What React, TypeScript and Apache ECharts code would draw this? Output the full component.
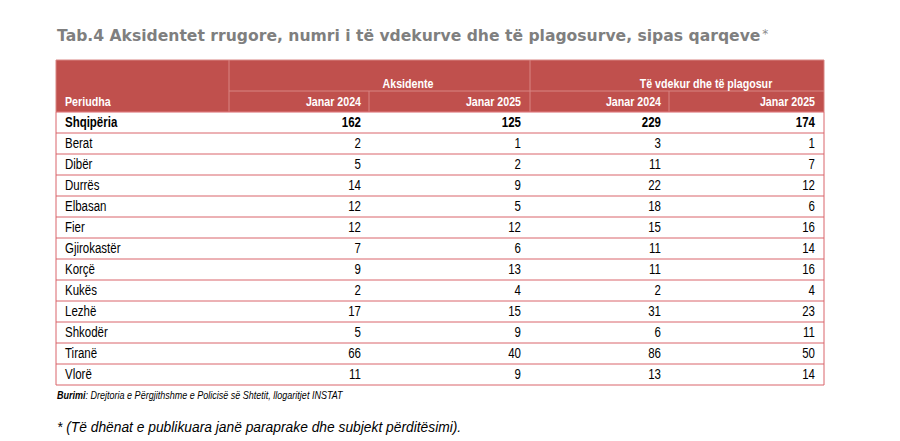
import React, { useEffect, useRef } from "react";
import * as echarts from "echarts";

const title = "Tab.4 Aksidentet rrugore, numri i të vdekurve dhe të plagosurve, sipas qarqeve";
const titleMark = "*";
const stubHeader = "Periudha";
const groupHeaders = ["Aksidente", "Të vdekur dhe të plagosur"];
const periodHeaders = ["Janar 2024", "Janar 2025", "Janar 2024", "Janar 2025"];
const regions = ["Shqipëria", "Berat", "Dibër", "Durrës", "Elbasan", "Fier", "Gjirokastër", "Korçë", "Kukës", "Lezhë", "Shkodër", "Tiranë", "Vlorë"];
const accidents2024 = [162, 2, 5, 14, 12, 12, 7, 9, 2, 17, 5, 66, 11];
const accidents2025 = [125, 1, 2, 9, 5, 12, 6, 13, 4, 15, 9, 40, 9];
const casualties2024 = [229, 3, 11, 22, 18, 15, 11, 11, 2, 31, 6, 86, 13];
const casualties2025 = [174, 1, 7, 12, 6, 16, 14, 16, 4, 23, 11, 50, 14];
const sourceLabel = "Burimi";
const sourceText = ": Drejtoria e Përgjithshme e Policisë së Shtetit, llogaritjet INSTAT";
const footnote = "* (Të dhënat e publikuara janë paraprake dhe subjekt përditësimi).";

const SANS = "'Liberation Sans', Arial, sans-serif";
const WIDE = "'DejaVu Sans', Verdana, sans-serif";
const NARROW_SCALE = 0.82;

export default function App() {
  const ref = useRef<HTMLDivElement>(null);
  useEffect(() => {
    if (!ref.current) return;
    const chart = echarts.init(ref.current, null, { renderer: "svg" });

    const L = 56, R = 824;
    const hTop = 60, hMid = 91, hBot = 112;
    const colSep = [229, 369, 530, 669];
    const numRight = [361, 521, 661, 815];
    const bodyBottom = 385;
    const rowH = (bodyBottom - hBot) / regions.length;
    const headFill = "#c0504d";
    const headLine = "#d88583";
    const bodyLine = "#d9646b";
    const columns = [accidents2024, accidents2025, casualties2024, casualties2025];

    const narrowText = (x: number, y: number, style: any) => ({
      type: "text", x, y, scaleX: NARROW_SCALE, scaleY: 1,
      style: { fontFamily: SANS, verticalAlign: "middle", ...style },
    });

    const els: any[] = [];
    els.push({
      type: "text", x: L + 1, y: 36,
      style: {
        text: "{t|" + title + "}{s|" + titleMark + "}",
        fill: "#7f7f7f", fontFamily: WIDE, verticalAlign: "middle",
        rich: {
          t: { fontSize: 15.6, fontWeight: "bold", fontFamily: WIDE, fill: "#7f7f7f" },
          s: { fontSize: 12, fontWeight: "normal", fontFamily: WIDE, fill: "#8c8c8c", verticalAlign: "top", padding: [0, 0, 0, 2] },
        },
      },
    });
    // header
    els.push({ type: "rect", shape: { x: L, y: hTop, width: R - L, height: hBot - hTop }, style: { fill: headFill, stroke: headLine, lineWidth: 1 } });
    els.push({ type: "line", shape: { x1: colSep[0], y1: hMid, x2: R, y2: hMid }, style: { stroke: headLine, lineWidth: 1 } });
    els.push({ type: "line", shape: { x1: colSep[0], y1: hTop, x2: colSep[0], y2: hBot }, style: { stroke: headLine, lineWidth: 1 } });
    els.push({ type: "line", shape: { x1: colSep[2], y1: hTop, x2: colSep[2], y2: hBot }, style: { stroke: headLine, lineWidth: 1 } });
    els.push({ type: "line", shape: { x1: colSep[1], y1: hMid, x2: colSep[1], y2: hBot }, style: { stroke: headLine, lineWidth: 1 } });
    els.push({ type: "line", shape: { x1: colSep[3], y1: hMid, x2: colSep[3], y2: hBot }, style: { stroke: headLine, lineWidth: 1 } });
    const headText = { fill: "#ffffff", fontSize: 13, fontWeight: "bold" };
    els.push(narrowText(65, 102, { ...headText, text: stubHeader, align: "left" }));
    els.push(narrowText(408, 84, { ...headText, text: groupHeaders[0], align: "center" }));
    els.push(narrowText(706, 84, { ...headText, text: groupHeaders[1], align: "center" }));
    periodHeaders.forEach((p, i) => {
      els.push(narrowText(numRight[i], 102, { ...headText, text: p, align: "right" }));
    });

    // body
    els.push({ type: "rect", shape: { x: L, y: hBot, width: R - L, height: bodyBottom - hBot }, style: { fill: "#ffffff", stroke: bodyLine, lineWidth: 1 } });
    regions.forEach((r, i) => {
      const top = hBot + i * rowH;
      const cy = top + rowH / 2;
      if (i > 0) {
        els.push({ type: "line", shape: { x1: L, y1: top, x2: R, y2: top }, style: { stroke: bodyLine, lineWidth: 1 } });
      }
      const bold = i === 0 ? "bold" : "normal";
      els.push(narrowText(65, cy, { text: r, fill: "#000", fontSize: 14, fontWeight: bold, align: "left" }));
      columns.forEach((col, j) => {
        els.push(narrowText(numRight[j], cy, { text: String(col[i]), fill: "#000", fontSize: 14, fontWeight: bold, align: "right" }));
      });
    });

    els.push({
      type: "text", x: L + 1, y: 395, scaleX: NARROW_SCALE,
      style: {
        text: "{b|" + sourceLabel + "}{n|" + sourceText + "}",
        fill: "#000", fontSize: 11, fontStyle: "italic", fontFamily: SANS, verticalAlign: "middle",
        rich: {
          b: { fontWeight: "bold", fontStyle: "italic", fontSize: 11, fontFamily: SANS, fill: "#000" },
          n: { fontWeight: "normal", fontStyle: "italic", fontSize: 11, fontFamily: SANS, fill: "#000" },
        },
      },
    });
    els.push({
      type: "text", x: L + 1, y: 427,
      style: { text: footnote, fill: "#000", fontSize: 13.8, fontStyle: "italic", fontFamily: SANS, verticalAlign: "middle" },
    });

    chart.setOption({ animation: false, graphic: { elements: els } });
    return () => chart.dispose();
  }, []);
  return <div ref={ref} style={{ position: "absolute", left: 0, top: 0, width: 900, height: 441, background: "#fff" }} />;
}
